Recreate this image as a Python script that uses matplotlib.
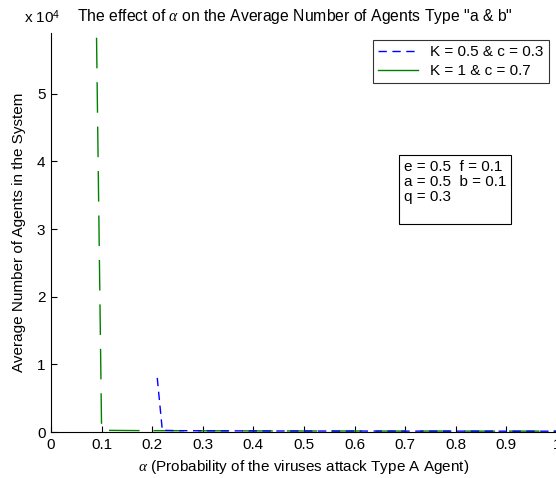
import matplotlib
matplotlib.use("Agg")
import matplotlib.pyplot as plt
from matplotlib.lines import Line2D

plt.rcParams['font.family'] = ['Liberation Sans', 'DejaVu Sans']
plt.rcParams['mathtext.fontset'] = 'custom'
plt.rcParams['mathtext.rm'] = 'Liberation Sans'
plt.rcParams['mathtext.it'] = 'Liberation Serif:italic'

# Data
alpha_blue = [0.21, 0.22, 0.25, 0.30, 0.35, 0.40, 0.45, 0.50, 0.55, 0.60,
              0.65, 0.70, 0.75, 0.80, 0.85, 0.90, 0.95, 1.00]
agents_blue = [8000, 250, 200, 180, 170, 160, 150, 150, 140, 140,
               140, 130, 130, 130, 130, 120, 120, 120]

alpha_green = [0.09, 0.10, 0.15, 0.20, 0.25, 0.30, 0.35, 0.40, 0.45, 0.50,
               0.55, 0.60, 0.65, 0.70, 0.75, 0.80, 0.85, 0.90, 0.95, 1.00]
agents_green = [58300, 250, 220, 200, 190, 180, 170, 160, 160, 150,
                150, 150, 140, 140, 140, 140, 130, 130, 130, 130]

labels = ['K = 0.5 & c = 0.3', 'K = 1 & c = 0.7']
x_ticks = [0, 0.1, 0.2, 0.3, 0.4, 0.5, 0.6, 0.7, 0.8, 0.9, 1.0]
x_tick_labels = ['0', '0.1', '0.2', '0.3', '0.4', '0.5', '0.6', '0.7', '0.8', '0.9', '1']
y_ticks = [0, 10000, 20000, 30000, 40000, 50000]
y_tick_labels = ['0', '1', '2', '3', '4', '5']

FS = 11

fig = plt.figure(figsize=(5.56, 4.78), dpi=100)
ax = fig.add_axes([51/556, 1 - 432/478, 506/556, 399/478])

ax.plot(alpha_green, agents_green, color='#008000', lw=1.0,
        linestyle=(0, (22, 10)))
ax.plot(alpha_blue, agents_blue, color='#0000ff', lw=1.0,
        linestyle=(0, (6, 4)))

ax.set_xlim(0, 1)
ax.set_ylim(0, 59000)
ax.set_xticks(x_ticks)
ax.set_xticklabels(x_tick_labels)
ax.set_yticks(y_ticks)
ax.set_yticklabels(y_tick_labels)
ax.tick_params(direction='in', length=4, width=0.8, labelsize=FS, pad=4)
ax.spines['top'].set_visible(False)
ax.spines['right'].set_visible(False)

fig.text(24/556, 1 - 17/478, r'x 10$^{\mathrm{4}}$', fontsize=FS, va='center', ha='left')
fig.text(77/556, 1 - 17/478, 'The effect of $\\alpha$ on the Average Number of Agents Type "a & b"',
         fontsize=11.3, va='center', ha='left')

ax.set_xlabel(r'$\alpha$ (Probability of the viruses attack Type A Agent)', fontsize=FS, labelpad=5)
ax.set_ylabel('Average Number of Agents in the System', fontsize=FS, labelpad=8)

handles = [Line2D([], [], color='#0000ff', lw=1.0, linestyle=(0, (6, 4))),
           Line2D([], [], color='#008000', lw=1.0)]
leg = ax.legend(handles, labels, loc='upper right', fontsize=FS, frameon=True, fancybox=False,
                edgecolor='black', handlelength=2.6, borderpad=0.35, labelspacing=0.3,
                handletextpad=0.8, borderaxespad=0)
leg.set_bbox_to_anchor((549/556, 1 - 40/478), transform=fig.transFigure)
leg.get_frame().set_linewidth(0.8)

fig.text(404/556, 1 - 160/478, 'e = 0.5  f = 0.1\na = 0.5  b = 0.1\nq = 0.3\n ',
         fontsize=FS, va='top', ha='left', linespacing=1.1,
         bbox=dict(boxstyle='square,pad=0.3', facecolor='white', edgecolor='black', linewidth=0.8))

fig.savefig('out.png', dpi=100)
